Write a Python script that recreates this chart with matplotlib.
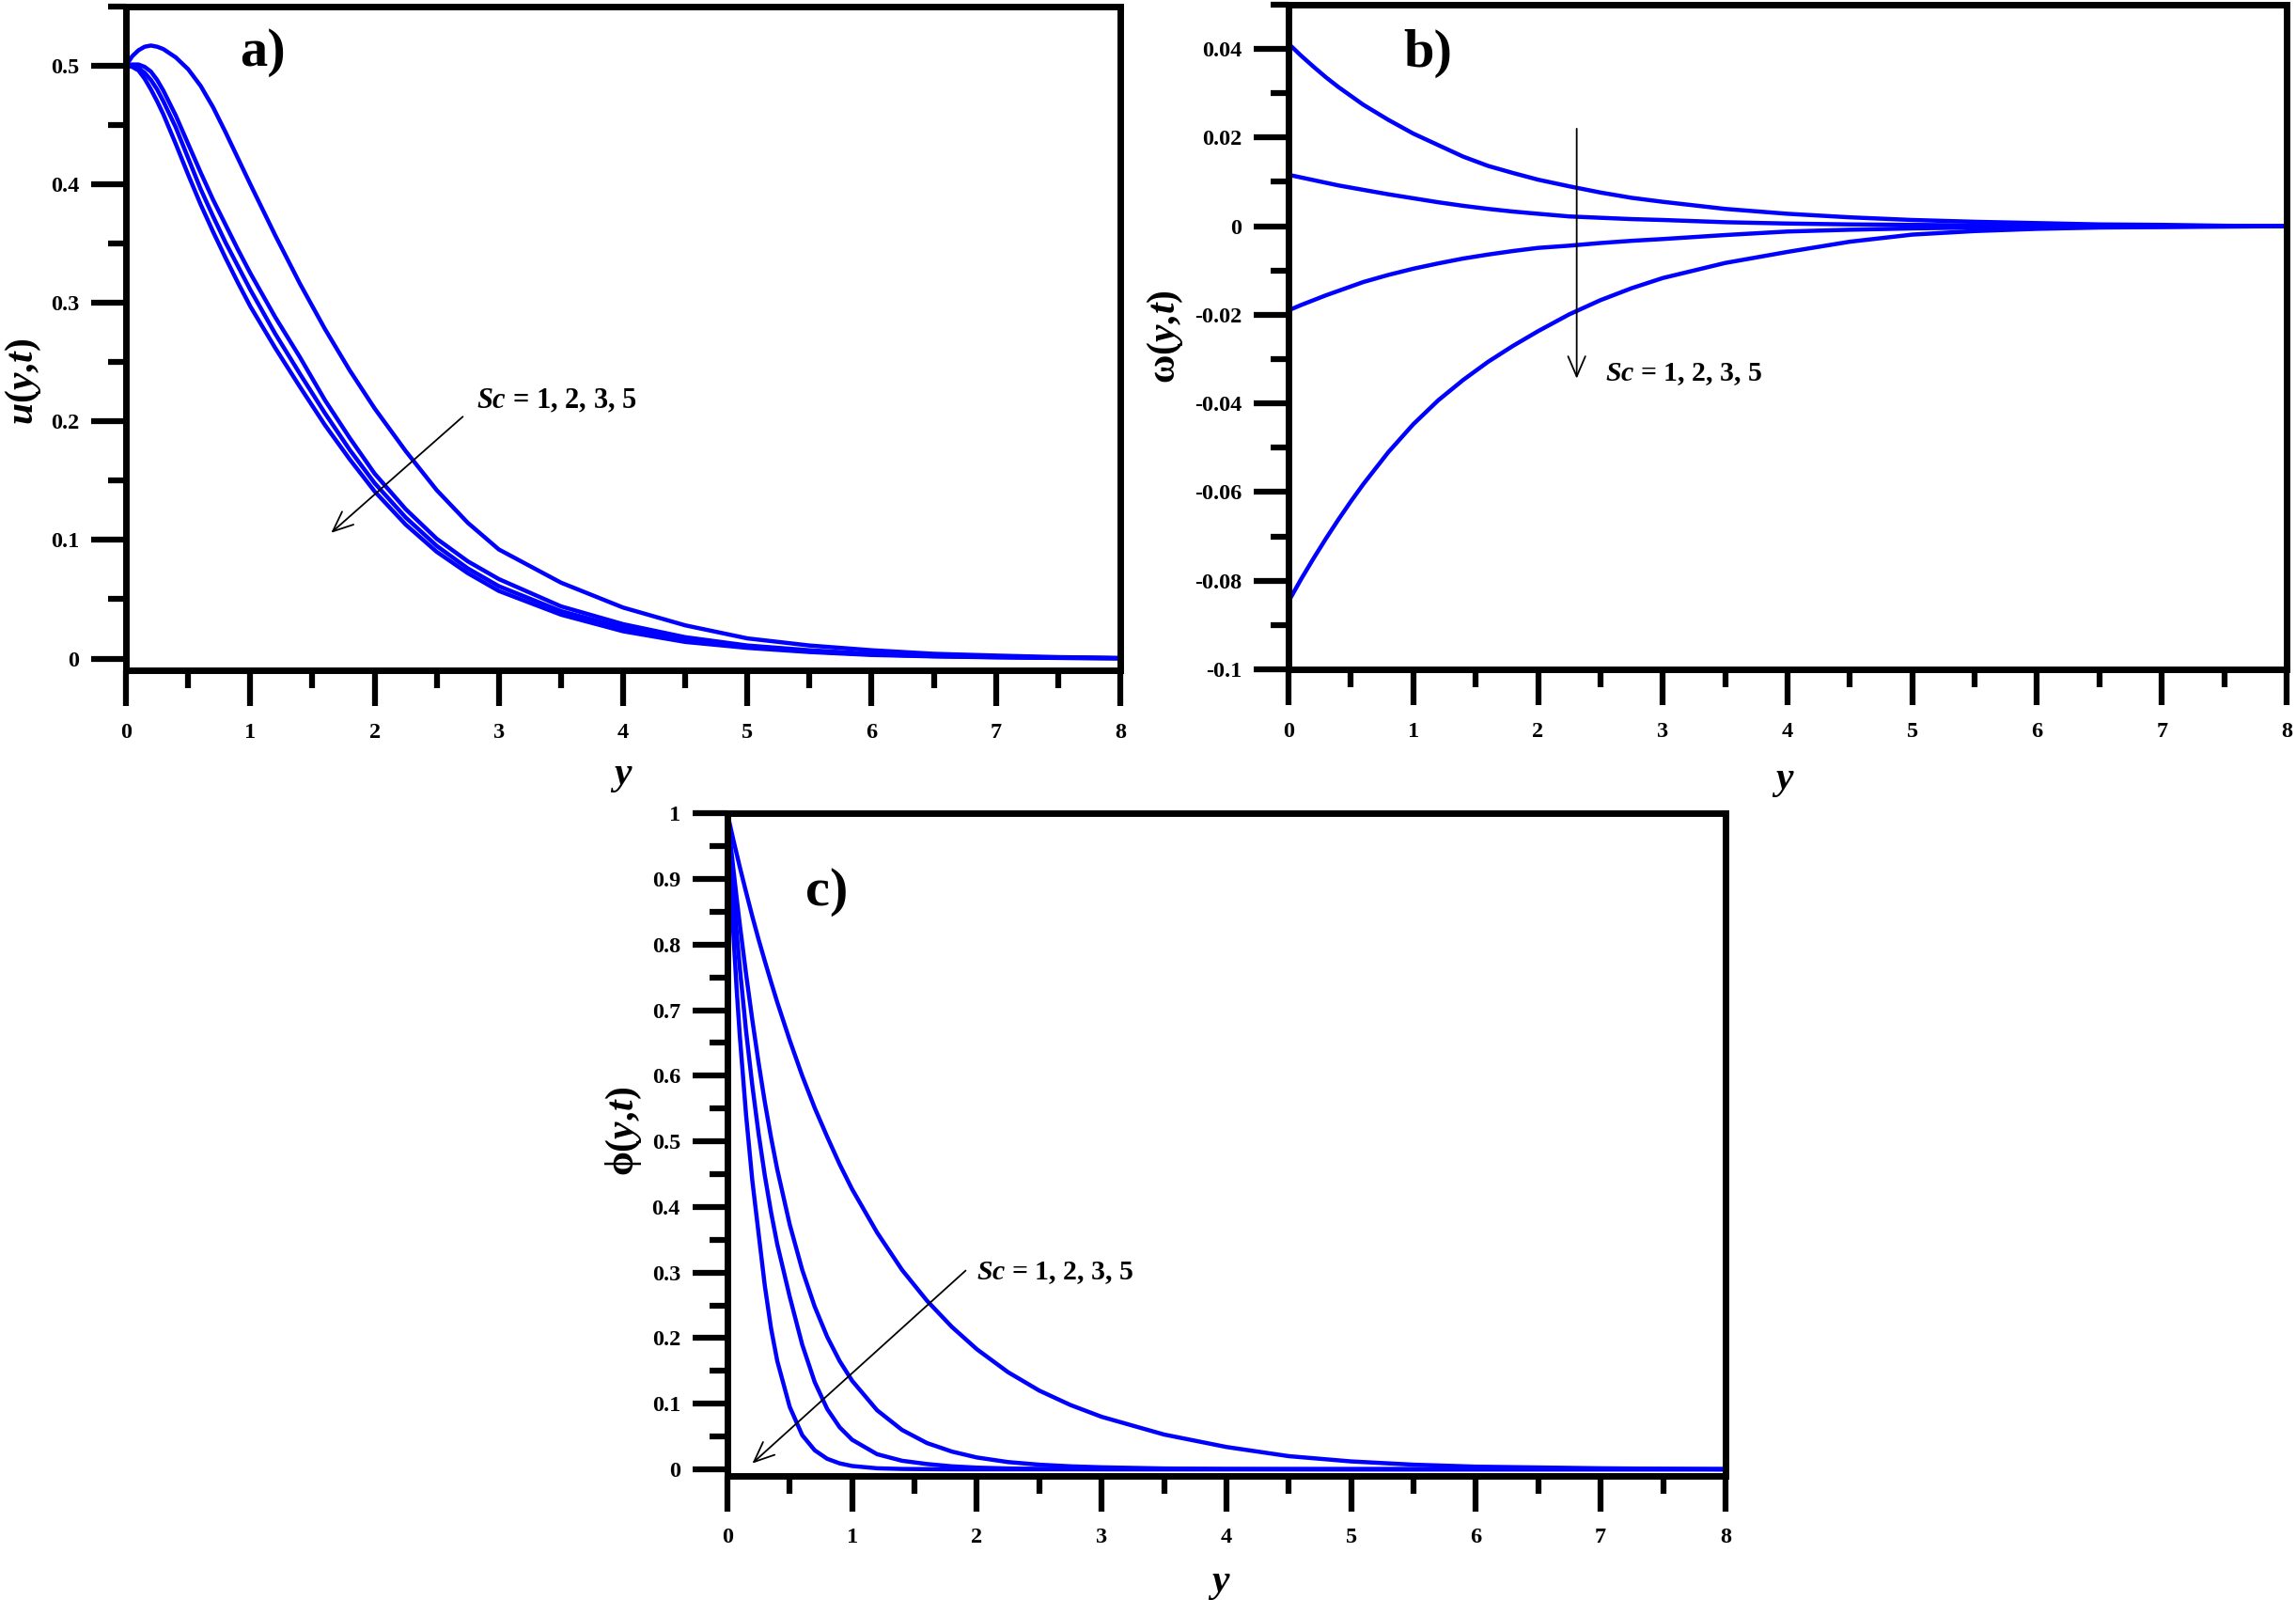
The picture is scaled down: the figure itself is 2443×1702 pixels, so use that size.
import matplotlib
matplotlib.use("Agg")
import matplotlib.pyplot as plt
from matplotlib.ticker import MultipleLocator, FuncFormatter

plt.rcParams['font.family'] = ['Liberation Serif', 'DejaVu Serif']
plt.rcParams['font.weight'] = 'bold'
plt.rcParams['mathtext.fontset'] = 'custom'
plt.rcParams['mathtext.rm'] = 'Liberation Serif:bold'
plt.rcParams['mathtext.it'] = 'Liberation Serif:italic:bold'
plt.rcParams['mathtext.bf'] = 'Liberation Serif:bold'
plt.rcParams['mathtext.sf'] = 'Liberation Serif'

# a) velocity u(y,t) for Sc = 1, 2, 3, 5
y_a = [0, 0.05, 0.1, 0.15, 0.2, 0.25, 0.3, 0.4, 0.5, 0.6, 0.7, 0.8, 0.9, 1.0, 1.2, 1.4, 1.6,
       1.8, 2.0, 2.25, 2.5, 2.75, 3.0, 3.5, 4.0, 4.5, 5.0, 5.5, 6.0, 6.5, 7.0, 7.5, 8.0]
u_sc1 = [0.500, 0.508, 0.513, 0.516, 0.517, 0.516, 0.514, 0.507, 0.497, 0.483, 0.465, 0.444,
         0.422, 0.400, 0.357, 0.316, 0.278, 0.243, 0.211, 0.175, 0.142, 0.1145, 0.092, 0.064,
         0.043, 0.028, 0.017, 0.011, 0.007, 0.004, 0.0025, 0.0012, 0.0005]
u_sc2 = [0.500, 0.501, 0.501, 0.499, 0.495, 0.488, 0.479, 0.458, 0.434, 0.410, 0.387, 0.366,
         0.345, 0.325, 0.288, 0.254, 0.218, 0.186, 0.156, 0.126, 0.101, 0.082, 0.067, 0.044,
         0.029, 0.018, 0.011, 0.007, 0.004, 0.0025, 0.0015, 0.0008, 0.0003]
u_sc3 = [0.500, 0.500, 0.498, 0.494, 0.488, 0.480, 0.470, 0.448, 0.422, 0.396, 0.373, 0.351,
         0.331, 0.311, 0.274, 0.240, 0.207, 0.176, 0.148, 0.119, 0.095, 0.076, 0.061, 0.040,
         0.026, 0.016, 0.010, 0.006, 0.0035, 0.002, 0.0012, 0.0006, 0.0002]
u_sc5 = [0.500, 0.499, 0.496, 0.489, 0.480, 0.470, 0.459, 0.434, 0.408, 0.383, 0.360, 0.338,
         0.317, 0.297, 0.262, 0.229, 0.197, 0.168, 0.141, 0.113, 0.090, 0.072, 0.057, 0.037,
         0.023, 0.014, 0.009, 0.0055, 0.003, 0.0018, 0.001, 0.0005, 0.0002]

# b) micro-rotation w(y,t)
y_b = [0, 0.1, 0.2, 0.3, 0.4, 0.5, 0.6, 0.8, 1.0, 1.2, 1.4, 1.6, 1.8, 2.0, 2.25, 2.5, 2.75,
       3.0, 3.5, 4.0, 4.5, 5.0, 5.5, 6.0, 6.5, 7.0, 7.5, 8.0]
w_sc1 = [0.0412, 0.0385, 0.0360, 0.0336, 0.0314, 0.0294, 0.0274, 0.0240, 0.0209, 0.0183,
         0.0157, 0.0136, 0.0120, 0.0105, 0.0090, 0.0076, 0.0064, 0.0055, 0.0039, 0.0028,
         0.0020, 0.0014, 0.0010, 0.0007, 0.0004, 0.0003, 0.0001, 0.0]
w_sc2 = [0.0116, 0.0110, 0.0104, 0.0098, 0.0092, 0.0087, 0.0082, 0.0072, 0.0063, 0.0054,
         0.0046, 0.0039, 0.0033, 0.0028, 0.0022, 0.0019, 0.0016, 0.0014, 0.0009, 0.0006,
         0.0004, 0.0003, 0.0002, 0.0001, 0.0001, 0.0, 0.0, 0.0]
w_sc3 = [-0.0190, -0.0178, -0.0167, -0.0156, -0.0146, -0.0136, -0.0126, -0.0110, -0.0096,
         -0.0084, -0.0073, -0.0064, -0.0056, -0.0049, -0.0044, -0.0038, -0.0033, -0.0029,
         -0.0020, -0.0012, -0.0008, -0.0005, -0.0003, -0.0002, -0.0001, -0.0001, 0.0, 0.0]
w_sc5 = [-0.0847, -0.0797, -0.0750, -0.0705, -0.0662, -0.0621, -0.0582, -0.0510, -0.0447,
         -0.0393, -0.0347, -0.0306, -0.0270, -0.0237, -0.0199, -0.0167, -0.0140, -0.0117,
         -0.0083, -0.0058, -0.0035, -0.0019, -0.0011, -0.0006, -0.0003, -0.0002, -0.0001, 0.0]

# c) concentration phi(y,t)
y_c = [0, 0.025, 0.05, 0.075, 0.1, 0.15, 0.2, 0.25, 0.3, 0.35, 0.4, 0.5, 0.6, 0.7, 0.8, 0.9,
       1.0, 1.2, 1.4, 1.6, 1.8, 2.0, 2.25, 2.5, 2.75, 3.0, 3.5, 4.0, 4.5, 5.0, 5.5, 6.0, 7.0, 8.0]
phi_sc1 = [1.0, 0.979, 0.958, 0.938, 0.918, 0.880, 0.843, 0.808, 0.775, 0.743, 0.712, 0.654,
           0.600, 0.551, 0.507, 0.465, 0.427, 0.361, 0.304, 0.257, 0.217, 0.183, 0.148, 0.120,
           0.098, 0.080, 0.053, 0.034, 0.020, 0.012, 0.007, 0.004, 0.0015, 0.0]
phi_sc2 = [1.0, 0.955, 0.912, 0.870, 0.830, 0.755, 0.685, 0.620, 0.560, 0.506, 0.457, 0.373,
           0.304, 0.248, 0.202, 0.165, 0.135, 0.090, 0.060, 0.040, 0.027, 0.018, 0.011, 0.007,
           0.0045, 0.003, 0.0012, 0.0005, 0.0002, 0.0001, 0, 0, 0, 0]
phi_sc3 = [1.0, 0.935, 0.874, 0.817, 0.764, 0.668, 0.585, 0.512, 0.448, 0.392, 0.343, 0.263,
           0.190, 0.133, 0.092, 0.064, 0.045, 0.023, 0.013, 0.008, 0.0045, 0.0025, 0.0012,
           0.0006, 0.0003, 0.0001, 0, 0, 0, 0, 0, 0, 0, 0]
phi_sc5 = [1.0, 0.90, 0.81, 0.73, 0.66, 0.54, 0.44, 0.36, 0.28, 0.215, 0.165, 0.095, 0.052,
           0.029, 0.016, 0.009, 0.005, 0.0015, 0.0005, 0.0002, 0, 0, 0, 0, 0, 0, 0, 0, 0, 0,
           0, 0, 0, 0]

sc_text = r'$Sc$ = 1, 2, 3, 5'
fmt = FuncFormatter(lambda v, p: '%g' % (round(v, 4) + 0.0))


def style_axis(ax, ymin, ymax, ymaj, ymin_step):
    ax.set_xlim(0, 8)
    ax.set_ylim(ymin, ymax)
    ax.xaxis.set_major_locator(MultipleLocator(1))
    ax.xaxis.set_minor_locator(MultipleLocator(0.5))
    ax.yaxis.set_major_locator(MultipleLocator(ymaj))
    ax.yaxis.set_minor_locator(MultipleLocator(ymin_step))
    ax.xaxis.set_major_formatter(fmt)
    ax.yaxis.set_major_formatter(fmt)
    for s in ax.spines.values():
        s.set_linewidth(5)
    ax.tick_params(which='both', direction='out', top=False, right=False, width=4.5)
    ax.tick_params(which='major', length=27, labelsize=17.5)
    ax.tick_params(which='minor', length=14)
    ax.tick_params(axis='x', which='major', pad=13)
    ax.tick_params(axis='y', which='major', pad=9)
    ax.set_xlabel(r'$y$', fontsize=30)


fig = plt.figure(figsize=(24.43, 17.02), dpi=100)
ax_a = fig.add_axes([0.0549, 0.581, 0.433, 0.415])
ax_b = fig.add_axes([0.5612, 0.5817, 0.4347, 0.4154])
ax_c = fig.add_axes([0.3168, 0.0776, 0.4347, 0.414])

line_kw = dict(color='#0000ff', lw=3.2, solid_capstyle='round', solid_joinstyle='round')
arrow_kw = dict(arrowstyle='->, head_length=0.7, head_width=0.3', color='black', lw=1.3,
                mutation_scale=22, shrinkA=0, shrinkB=0)

# panel a
for vals in [u_sc1, u_sc2, u_sc3, u_sc5]:
    ax_a.plot(y_a, vals, **line_kw)
style_axis(ax_a, -0.01, 0.55, 0.1, 0.05)
ax_a.set_ylabel(r'$u(y,\!t)$', fontsize=30)
ax_a.yaxis.set_label_coords(-0.083, 0.435)
ax_a.xaxis.set_label_coords(0.498, -0.132)
ax_a.text(1.10, 0.511, 'a)', fontsize=42, ha='center', va='center')
ax_a.annotate('', xy=(1.65, 0.106), xytext=(2.71, 0.204), arrowprops=arrow_kw)
ax_a.text(2.82, 0.217, sc_text, fontsize=22, ha='left', va='center')

# panel b
for vals in [w_sc1, w_sc2, w_sc3, w_sc5]:
    ax_b.plot(y_b, vals, **line_kw)
style_axis(ax_b, -0.1, 0.05, 0.02, 0.01)
ax_b.set_ylabel(r'$\mathsf{\omega}(y,\!t)$', fontsize=30)
ax_b.yaxis.set_label_coords(-0.104, 0.5)
ax_b.xaxis.set_label_coords(0.496, -0.141)
ax_b.text(1.12, 0.039, 'b)', fontsize=42, ha='center', va='center')
ax_b.annotate('', xy=(2.31, -0.0344), xytext=(2.31, 0.022), arrowprops=arrow_kw)
ax_b.text(2.54, -0.0334, sc_text, fontsize=21.5, ha='left', va='center')

# panel c
for vals in [phi_sc1, phi_sc2, phi_sc3, phi_sc5]:
    ax_c.plot(y_c, vals, **line_kw)
style_axis(ax_c, -0.01, 1.0, 0.1, 0.05)
ax_c.set_ylabel(r'$\mathsf{\phi}(y,\!t)$', fontsize=30)
ax_c.yaxis.set_label_coords(-0.084, 0.52)
ax_c.xaxis.set_label_coords(0.493, -0.136)
ax_c.text(0.80, 0.88, 'c)', fontsize=42, ha='center', va='center')
ax_c.annotate('', xy=(0.20, 0.009), xytext=(1.91, 0.303), arrowprops=arrow_kw)
ax_c.text(2.0, 0.30, sc_text, fontsize=21.5, ha='left', va='center')

for ax in [ax_a, ax_b, ax_c]:
    for line in ax.lines:
        line.set_clip_on(False)

fig.savefig('out.png', dpi=100, facecolor='white')
